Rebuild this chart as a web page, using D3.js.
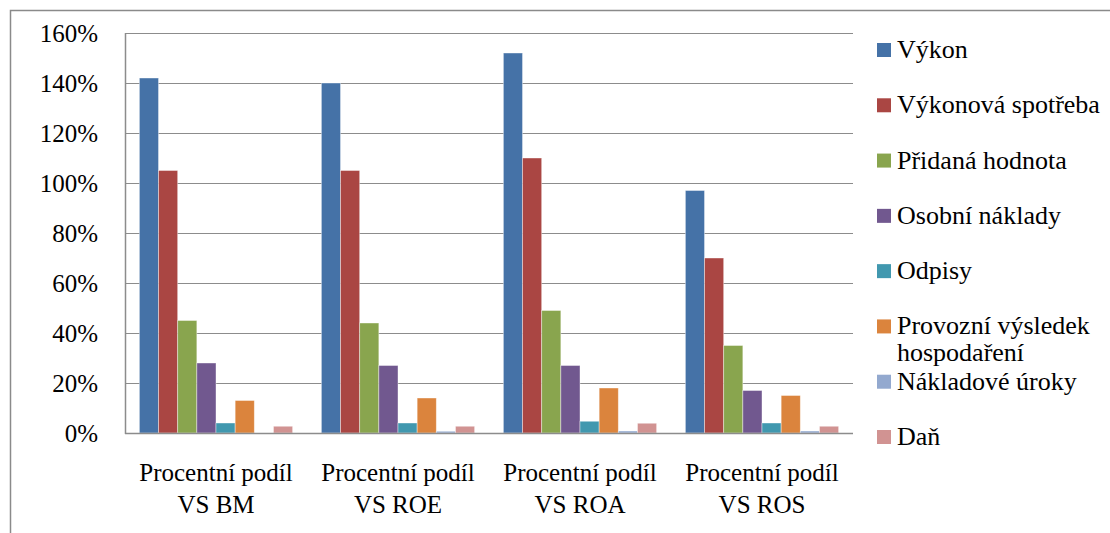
<!DOCTYPE html>
<html>
<head>
<meta charset="utf-8">
<script src="https://cdn.jsdelivr.net/npm/d3@7"></script>
<style>
  html, body { margin: 0; padding: 0; background: #fff; font-family: "Liberation Serif", serif; }
  svg { display: block; }
</style>
</head>
<body>
<svg id="chart" width="1110" height="533" font-family="Liberation Serif"></svg>
<script>
// Categories (x-axis groups), each label split over two lines
const categories = [
  ["Procentní podíl", "VS BM"],
  ["Procentní podíl", "VS ROE"],
  ["Procentní podíl", "VS ROA"],
  ["Procentní podíl", "VS ROS"]
];

// Series names (legend order); the long one wraps onto two lines
const seriesNames = [
  ["Výkon"],
  ["Výkonová spotřeba"],
  ["Přidaná hodnota"],
  ["Osobní náklady"],
  ["Odpisy"],
  ["Provozní výsledek", "hospodaření"],
  ["Nákladové úroky"],
  ["Daň"]
];

// Values in percent, one entry per category
const vykon            = [142, 140, 152, 97];
const vykonovaSpotreba = [105, 105, 110, 70];
const pridanaHodnota   = [45, 44, 49, 35];
const osobniNaklady    = [28, 27, 27, 17];
const odpisy           = [4, 4, 4.7, 4];
const provozniVysledek = [13, 14, 18, 15];
const nakladoveUroky   = [0, 0.7, 0.8, 0.8];
const dan              = [2.7, 2.7, 3.9, 2.7];

const seriesValues = [vykon, vykonovaSpotreba, pridanaHodnota, osobniNaklady,
                      odpisy, provozniVysledek, nakladoveUroky, dan];

const colors = ["#4572A7", "#AA4643", "#89A54E", "#71588F",
                "#4198AF", "#DB843D", "#93A9CF", "#D19392"];

// Y-axis ticks
const yTicks = [0, 20, 40, 60, 80, 100, 120, 140, 160];

const FONT = "Liberation Serif";
const svg = d3.select("#chart");

// Outer frame
svg.append("rect")
  .attr("x", 10.5).attr("y", 10.5)
  .attr("width", 1110).attr("height", 540)
  .attr("fill", "none").attr("stroke", "#8a8a8a").attr("stroke-width", 1.5);

const plot = { left: 125, right: 853, top: 33, bottom: 433 };

const y = d3.scaleLinear().domain([0, 160]).range([plot.bottom, plot.top]);
const x0 = d3.scaleBand().domain(d3.range(categories.length))
  .range([plot.left, plot.right]).paddingInner(0).paddingOuter(0);

// Group = 8 bars plus a gap of 1.5 bar widths split on both sides
const barW = x0.bandwidth() / (seriesNames.length + 1.5);
const x1 = d3.scaleBand().domain(d3.range(seriesNames.length))
  .range([barW * 0.75, x0.bandwidth() - barW * 0.75]).padding(0);

// Gridlines
svg.append("g").selectAll("line").data(yTicks.filter(t => t > 0)).join("line")
  .attr("x1", plot.left).attr("x2", plot.right)
  .attr("y1", d => Math.round(y(d)) + 0.5).attr("y2", d => Math.round(y(d)) + 0.5)
  .attr("stroke", "#8c8c8c").attr("stroke-width", 1.2);

// Y axis labels
const yAxis = d3.axisLeft(y).tickValues(yTicks).tickSize(0).tickPadding(27)
  .tickFormat(d => d + "%");
const gy = svg.append("g").attr("transform", `translate(${plot.left},0)`).call(yAxis);
gy.attr("font-family", FONT).attr("font-size", 25);
gy.select(".domain").remove();
gy.selectAll("text")
  .attr("font-family", FONT).attr("font-size", 25).attr("fill", "#000")
  .attr("dy", "0.35em");

// Bars
const groups = svg.append("g").selectAll("g").data(categories).join("g")
  .attr("transform", (d, i) => `translate(${x0(i)},0)`);

groups.each(function (cat, ci) {
  d3.select(this).selectAll("rect")
    .data(seriesValues.map((vals, si) => ({ si, v: vals[ci] })).filter(d => d.v > 0))
    .join("rect")
    .attr("x", d => x1(d.si))
    .attr("width", x1.bandwidth())
    .attr("y", d => y(d.v))
    .attr("height", d => y(0) - y(d.v))
    .attr("fill", d => colors[d.si])
    .attr("stroke", "#ffffff").attr("stroke-opacity", 0.5).attr("stroke-width", 0.8);
});

// Axis lines
svg.append("line")
  .attr("x1", plot.left + 0.5).attr("x2", plot.left + 0.5)
  .attr("y1", plot.top).attr("y2", plot.bottom + 1)
  .attr("stroke", "#8c8c8c").attr("stroke-width", 1.5);
svg.append("line")
  .attr("x1", plot.left).attr("x2", plot.right)
  .attr("y1", plot.bottom + 0.5).attr("y2", plot.bottom + 0.5)
  .attr("stroke", "#8c8c8c").attr("stroke-width", 1.5);

// Category labels, one text per line
const catG = svg.append("g").selectAll("g").data(categories).join("g");
catG.selectAll("text").data(d => d).join("text")
  .attr("text-anchor", "middle")
  .attr("font-family", FONT).attr("font-size", 25).attr("fill", "#000")
  .attr("x", function () {
    const i = categories.indexOf(d3.select(this.parentNode).datum());
    return x0(i) + x0.bandwidth() / 2;
  })
  .attr("y", (d, i) => 481 + i * 32)
  .text(d => d);

// Legend
const legendY = d3.scaleLinear().domain([0, 7]).range([50, 437]);
const legend = svg.append("g").selectAll("g").data(seriesNames).join("g")
  .attr("transform", (d, i) => `translate(877,${legendY(i)})`);
legend.append("rect")
  .attr("x", 0).attr("y", -7).attr("width", 14).attr("height", 14)
  .attr("fill", (d, i) => colors[i]);
legend.selectAll("text").data(d => d).join("text")
  .attr("x", 20).attr("y", (d, i) => 8 + i * 27)
  .attr("font-family", FONT).attr("font-size", 26).attr("fill", "#000")
  .text(d => d);
</script>
</body>
</html>
